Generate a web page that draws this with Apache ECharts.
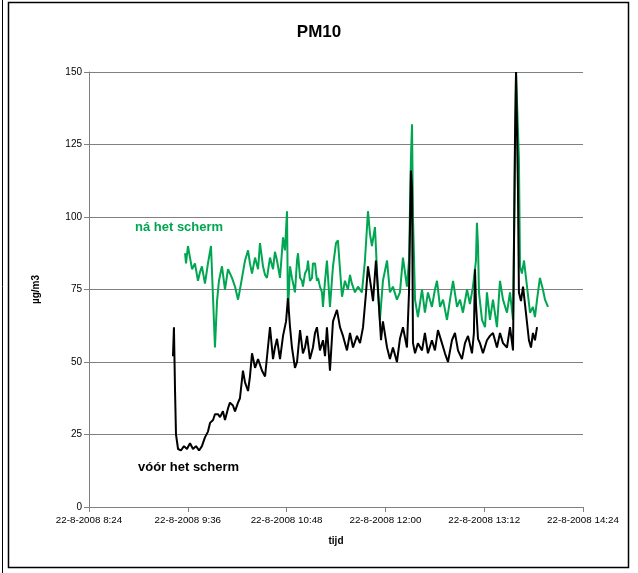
<!DOCTYPE html>
<html><head><meta charset="utf-8">
<script src="https://cdn.jsdelivr.net/npm/echarts@6/dist/echarts.min.js"></script>
<style>html,body{margin:0;padding:0;background:#fff}#c{width:638px;height:573px}</style>
</head><body><div id="c"></div>
<script>
// time axis in minutes after midnight (22-8-2008)
const startMinute = 504;          // 8:24
const endMinute = 864;            // 14:24
const tickStep = 72;              // minutes
const yTicks = [0, 25, 50, 75, 100, 125, 150];
const seriesNames = ['ná het scherm', 'vóór het scherm'];

// [minutes after 8:24, µg/m3]
const voorData = [[61.2,52],[61.9,62],[62.7,40],[63.4,25],[64.9,20],[67.0,19.5],[69.2,21],[71.4,20],[73.6,22],[75.8,20],[78.0,21],[80.2,19.5],[82.3,21],[84.5,24],[86.7,26],[88.2,29],[90.4,30],[91.8,32],[94.0,32],[95.5,31],[97.6,33],[99.1,30],[101.3,34],[102.7,36],[104.9,35],[106.4,33],[108.6,36],[110.0,37.5],[112.2,47],[113.7,43],[115.9,40],[117.3,45],[118.8,53],[121.0,48],[123.2,51],[126.1,47],[128.3,45],[130.4,55],[131.9,62],[134.1,51],[135.5,55],[137.0,58],[139.2,51],[141.4,59],[143.6,64],[145.0,72],[146.5,62],[147.9,55],[150.1,48],[151.6,50],[153.8,61],[155.9,53],[157.4,55],[158.9,59],[161.0,51],[163.2,55],[164.7,60],[166.1,62],[168.3,54],[170.5,57.5],[172.0,52],[173.4,62],[175.6,47],[177.8,64],[180.7,68],[182.9,62],[185.1,59],[188.0,54],[190.2,60],[192.4,55],[195.3,59],[197.5,56.5],[199.7,62],[201.9,74],[203.3,83],[205.5,76],[207.0,71],[209.1,85],[210.6,75],[212.8,57.5],[214.2,64],[217.2,55],[219.3,51],[221.5,55],[224.4,50],[226.6,58],[228.8,62],[231.7,55],[233.2,74],[234.6,116],[235.4,110],[236.1,56.5],[237.6,53],[239.7,56.5],[242.7,54],[244.8,60],[247.0,53],[249.9,57.5],[252.1,54],[254.3,61],[257.2,56.5],[259.4,53],[261.6,50],[264.5,57.5],[266.7,60],[268.9,54],[271.8,51],[274.0,56.5],[276.2,59],[279.1,53],[280.5,60],[281.3,82],[282.0,70],[283.5,58],[284.9,56.5],[287.1,53],[290.0,57.5],[292.2,59],[294.4,60],[297.3,55],[299.5,60],[301.7,56.5],[304.6,55],[306.8,62],[309.0,54],[310.4,125],[311.2,150],[311.9,150],[312.6,110],[313.3,74],[314.8,71],[316.3,76],[318.4,67],[320.6,57.5],[322.1,55],[323.5,60],[325.0,57.5],[326.5,62]];

const naData = [[70.0,87.5],[70.7,84],[72.1,90],[73.6,86],[75.1,82],[77.2,84],[79.4,78],[80.9,81],[82.3,83],[84.5,77],[86.7,84],[88.9,90],[90.4,72],[91.8,55],[93.3,71],[94.7,78],[96.9,83],[99.1,75],[101.3,82],[104.2,79],[106.4,76],[108.6,71.5],[110.0,75],[111.5,79],[113.7,85],[115.9,88.5],[117.3,84],[118.8,80.5],[121.0,86],[123.2,82],[124.6,91],[126.8,83],[128.3,80],[129.7,79],[131.9,86],[134.1,82],[135.5,88],[137.0,85],[139.2,79],[141.4,93],[142.8,88.5],[144.3,102],[145.0,67],[146.5,83],[147.9,79],[150.1,74],[151.6,85],[152.3,87.5],[153.8,79],[155.2,78],[155.9,76],[157.4,80.5],[158.9,82],[159.6,85],[161.0,78],[162.5,79],[163.2,84],[164.7,84],[166.1,78],[166.9,79],[168.3,76],[169.8,74],[170.5,69],[172.0,78],[173.4,85],[175.6,69],[177.8,83],[180.0,91],[181.4,92],[182.9,82],[184.4,72.5],[186.5,78],[188.7,75],[190.2,80],[191.6,77],[193.8,74],[196.0,76],[198.9,74],[201.1,85],[203.3,102],[204.8,94],[206.2,90],[208.4,96.5],[210.6,74],[212.0,64.5],[214.2,78],[217.2,85],[219.3,74],[221.5,76],[224.4,71.5],[226.6,74],[228.8,86],[231.7,76],[233.2,85],[234.6,120],[235.4,132],[236.1,100],[237.6,71.5],[239.7,65.5],[242.7,75],[244.8,67],[247.0,74],[249.9,69],[252.1,75],[253.6,78],[255.8,69],[258.0,71.5],[260.9,64.5],[263.1,71.5],[265.3,78],[268.2,69],[270.4,71.5],[272.5,67],[275.5,75],[277.6,70],[279.8,76],[282.0,85],[282.7,98],[283.5,90],[284.2,74],[286.4,64.5],[288.6,62],[290.0,74],[292.2,64.5],[294.4,71.5],[297.3,62],[299.5,78],[301.7,71.5],[304.6,67],[306.8,74],[309.0,64.5],[310.4,120],[311.2,150],[312.6,150],[313.3,120],[314.1,83],[315.5,80.5],[317.0,85],[319.2,76],[321.4,67],[323.5,69],[325.0,65.5],[326.5,71.5],[328.6,79],[330.8,75],[332.3,71.5],[334.5,69]];

const chart = echarts.init(document.getElementById('c'), null, {renderer: 'canvas'});
const toXY = d => d.map(p => [startMinute + p[0], p[1]]);
const fmt = m => { const h = Math.floor(m / 60), mm = m % 60; return '22-8-2008 ' + h + ':' + (mm < 10 ? '0' : '') + mm; };
const FONT = 'Liberation Sans, Arial, sans-serif';

chart.setOption({
  animation: false,
  backgroundColor: '#fff',
  title: {text: 'PM10', left: 'center', top: 19, textStyle: {fontFamily: FONT, fontSize: 17, fontWeight: 'bold', color: '#000'}},
  grid: {left: 89, right: 55, top: 72, bottom: 66, containLabel: false},
  xAxis: {
    type: 'value', min: startMinute, max: endMinute, interval: tickStep,
    name: 'tijd', nameLocation: 'middle', nameGap: 29,
    nameTextStyle: {fontFamily: FONT, fontSize: 10, fontWeight: 'bold', color: '#000'},
    axisLine: {show: true, lineStyle: {color: '#808080', width: 1}},
    axisTick: {show: true, inside: false, length: 5, lineStyle: {color: '#808080'}},
    axisLabel: {fontFamily: FONT, fontSize: 9.8, color: '#000', margin: 8, formatter: v => fmt(v), showMinLabel: true, showMaxLabel: true},
    splitLine: {show: false}
  },
  yAxis: {
    type: 'value', min: yTicks[0], max: yTicks[yTicks.length - 1], interval: 25,
    name: 'µg/m3', nameLocation: 'middle', nameGap: 48, nameRotate: 90,
    nameTextStyle: {fontFamily: FONT, fontSize: 10, fontWeight: 'bold', color: '#000'},
    axisLine: {show: true, lineStyle: {color: '#808080', width: 1}},
    axisTick: {show: true, length: 5, lineStyle: {color: '#808080'}},
    axisLabel: {fontFamily: FONT, fontSize: 10, color: '#000', margin: 7},
    splitLine: {show: true, lineStyle: {color: '#808080', width: 1}}
  },
  series: [
    {name: seriesNames[0], type: 'line', data: toXY(naData), showSymbol: false, symbol: 'none',
     lineStyle: {color: '#00a651', width: 2}, itemStyle: {color: '#00a651'}, z: 2},
    {name: seriesNames[1], type: 'line', data: toXY(voorData), showSymbol: false, symbol: 'none',
     lineStyle: {color: '#000', width: 2}, itemStyle: {color: '#000'}, z: 3}
  ],
  graphic: [
    {type: 'rect', shape: {x: 8.5, y: 2.5, width: 620, height: 565}, style: {fill: null, stroke: '#000', lineWidth: 1.5}, silent: true, z: -1},
    {type: 'line', shape: {x1: 2.5, y1: 0, x2: 2.5, y2: 573}, style: {stroke: '#000', lineWidth: 1}, silent: true},
    {type: 'text', left: 135, top: 221, style: {text: seriesNames[0], fill: '#00a651', font: 'bold 13px ' + FONT}, z: 10},
    {type: 'text', left: 138, top: 461, style: {text: seriesNames[1], fill: '#000', font: 'bold 13px ' + FONT}, z: 10}
  ]
});
</script>
</body></html>
